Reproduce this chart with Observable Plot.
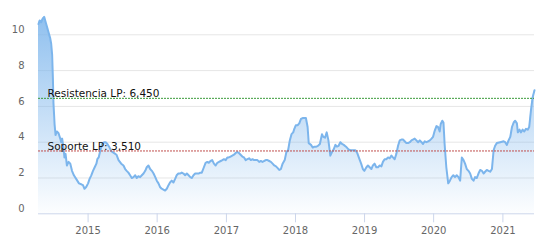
<!DOCTYPE html>
<html><head><meta charset="utf-8">
<script src="https://cdn.jsdelivr.net/npm/d3@7"></script>
<script src="https://cdn.jsdelivr.net/npm/@observablehq/plot@0.6"></script>
<style>body{margin:0;background:#fff;}</style>
</head><body><div id="chart"></div>
<script>
const fechas = [
"2014-04-14","2014-04-20","2014-04-28","2014-05-06","2014-05-14","2014-05-22","2014-05-30","2014-06-07","2014-06-15","2014-06-20","2014-06-25","2014-06-29","2014-07-02","2014-07-08","2014-07-13","2014-07-20","2014-07-29","2014-08-07","2014-08-12","2014-08-17","2014-08-24","2014-08-29","2014-09-04","2014-09-11","2014-09-20","2014-09-29","2014-10-08","2014-10-18","2014-10-30","2014-11-14","2014-11-26","2014-12-05","2014-12-13","2014-12-22",
"2015-01-01","2015-01-09","2015-01-18","2015-01-27","2015-02-05","2015-02-14","2015-02-19","2015-02-26","2015-03-07","2015-03-16","2015-03-27","2015-04-04","2015-04-13","2015-04-22","2015-05-04","2015-05-17","2015-05-31","2015-06-11","2015-06-25","2015-07-07","2015-07-16","2015-07-24","2015-08-02","2015-08-11","2015-08-20","2015-08-29","2015-09-07","2015-09-15","2015-09-24","2015-10-03","2015-10-12","2015-10-21","2015-10-30","2015-11-07","2015-11-16","2015-11-25","2015-12-04","2015-12-13","2015-12-22","2015-12-30",
"2016-01-08","2016-01-16","2016-01-25","2016-02-03","2016-02-12","2016-02-21","2016-03-01","2016-03-09","2016-03-18","2016-03-27","2016-04-05","2016-04-13","2016-04-22","2016-05-01","2016-05-10","2016-05-19","2016-05-28","2016-06-06","2016-06-15","2016-06-24","2016-07-02","2016-07-11","2016-07-20","2016-07-29","2016-08-07","2016-08-16","2016-08-24","2016-09-04","2016-09-13","2016-09-22","2016-09-30","2016-10-09","2016-10-18","2016-10-27","2016-11-05","2016-11-14","2016-11-23","2016-12-02","2016-12-11","2016-12-19","2016-12-28",
"2017-01-06","2017-01-14","2017-01-23","2017-02-01","2017-02-10","2017-02-19","2017-02-28","2017-03-08","2017-03-17","2017-03-26","2017-04-04","2017-04-13","2017-04-22","2017-05-01","2017-05-10","2017-05-19","2017-05-27","2017-06-05","2017-06-14","2017-06-23","2017-07-02","2017-07-11","2017-07-19","2017-07-28","2017-08-06","2017-08-15","2017-08-24","2017-09-02","2017-09-11","2017-09-20","2017-09-29","2017-10-07","2017-10-16","2017-10-25","2017-11-05","2017-11-14","2017-11-23","2017-12-02","2017-12-11","2017-12-20","2017-12-26",
"2018-01-03","2018-01-12","2018-01-21","2018-01-30","2018-02-08","2018-02-17","2018-02-25","2018-03-06","2018-03-12","2018-03-24","2018-04-02","2018-04-11","2018-04-19","2018-04-28","2018-05-10","2018-05-21","2018-05-28","2018-06-06","2018-06-15","2018-06-24","2018-07-04","2018-07-13","2018-07-22","2018-07-31","2018-08-08","2018-08-17","2018-08-26","2018-09-04","2018-09-13","2018-09-25","2018-10-08","2018-10-18","2018-10-27","2018-11-05","2018-11-14","2018-11-23","2018-12-05","2018-12-14","2018-12-23","2018-12-31",
"2019-01-11","2019-01-19","2019-01-28","2019-02-06","2019-02-14","2019-02-23","2019-03-04","2019-03-13","2019-03-22","2019-03-31","2019-04-08","2019-04-17","2019-04-26","2019-05-05","2019-05-14","2019-05-23","2019-05-31","2019-06-09","2019-06-18","2019-06-27","2019-07-06","2019-07-15","2019-07-23","2019-08-01","2019-08-10","2019-08-19","2019-08-28","2019-09-06","2019-09-14","2019-09-23","2019-10-02","2019-10-11","2019-10-20","2019-10-29","2019-11-06","2019-11-15","2019-11-24","2019-12-03","2019-12-12","2019-12-21","2019-12-29",
"2020-01-07","2020-01-16","2020-01-24","2020-02-02","2020-02-07","2020-02-16","2020-02-22","2020-02-28","2020-03-08","2020-03-18","2020-03-27","2020-04-05","2020-04-14","2020-04-23","2020-05-02","2020-05-11","2020-05-20","2020-05-29","2020-06-07","2020-06-15","2020-06-24","2020-07-03","2020-07-12","2020-07-21","2020-07-30","2020-08-07","2020-08-16","2020-08-25","2020-09-03","2020-09-12","2020-09-21","2020-09-29","2020-10-08","2020-10-17","2020-10-26","2020-11-04","2020-11-13","2020-11-21","2020-11-30","2020-12-18",
"2021-01-05","2021-01-13","2021-01-22","2021-01-31","2021-02-09","2021-02-18","2021-02-27","2021-03-07","2021-03-16","2021-03-21","2021-03-30","2021-04-06","2021-04-15","2021-04-24","2021-05-03","2021-05-12","2021-05-20","2021-05-29","2021-06-07","2021-06-17"
];
const valores = [
10.6,10.8,10.7,10.9,11.0,10.7,10.4,10.1,9.8,9.5,8.9,7.6,6.2,5.0,4.4,4.6,4.5,4.2,4.0,4.2,3.7,3.15,3.35,2.7,2.9,2.8,2.4,2.15,1.95,1.7,1.65,1.6,1.4,1.5,
1.7,1.95,2.15,2.4,2.6,2.8,3.05,3.15,3.55,3.9,4.0,4.0,3.9,3.75,3.5,3.4,3.3,3.0,2.8,2.7,2.5,2.4,2.3,2.15,2.0,2.05,2.15,2.0,2.1,2.05,2.15,2.25,2.4,2.6,2.7,2.5,2.4,2.25,2.05,1.85,
1.7,1.5,1.4,1.35,1.3,1.4,1.6,1.75,1.85,1.75,1.95,2.15,2.25,2.25,2.3,2.25,2.15,2.25,2.15,2.05,2.0,2.15,2.25,2.25,2.25,2.3,2.3,2.6,2.85,2.9,2.85,2.95,3.0,2.8,2.7,2.85,2.9,2.95,3.0,3.05,3.0,
3.15,3.15,3.2,3.25,3.3,3.4,3.45,3.4,3.3,3.2,3.15,3.0,3.05,3.1,3.0,3.05,3.0,3.0,3.0,2.9,2.95,2.9,2.95,3.0,3.0,2.95,2.9,2.8,2.7,2.65,2.55,2.45,2.5,2.8,3.0,3.45,3.55,4.1,4.45,4.55,4.75,
4.95,4.95,5.05,5.3,5.35,5.35,5.35,4.85,3.95,3.85,3.7,3.75,3.75,3.78,3.9,4.45,4.3,4.25,4.55,4.1,3.25,3.45,3.6,3.85,3.75,3.8,4.0,3.9,3.85,3.75,3.6,3.55,3.55,3.55,3.55,3.4,3.05,2.8,2.5,2.4,
2.6,2.7,2.6,2.5,2.7,2.8,2.6,2.6,2.7,2.65,2.9,3.05,3.05,3.15,3.1,3.25,3.15,3.05,3.35,3.8,4.1,4.15,4.15,4.05,3.95,3.95,4.0,4.1,4.15,4.2,4.1,4.0,4.1,4.0,3.9,4.05,4.0,4.05,4.1,4.2,4.3,
4.65,4.9,4.85,4.6,5.0,5.2,5.1,3.9,2.6,1.7,1.85,2.05,2.15,2.05,2.15,2.05,1.85,3.15,3.0,2.8,2.5,2.4,2.25,1.95,1.85,2.05,2.0,2.25,2.45,2.4,2.25,2.35,2.45,2.4,2.35,2.5,3.55,3.8,3.95,4.0,
4.05,4.0,3.85,4.1,4.3,4.85,5.1,5.2,5.05,4.55,4.7,4.55,4.7,4.6,4.75,4.7,4.85,5.75,6.5,6.9
];
const yTicks = [0, 2, 4, 6, 8, 10];
const xTickYears = ["2015","2016","2017","2018","2019","2020","2021"];
const nivelNombres = ["Resistencia LP: 6,450", "Soporte LP: 3,510"];
const nivelValores = [6.45, 3.51];
const nivelColores = ["#3a9a3a", "#c0504d"];

const data = fechas.map((f, i) => ({fecha: new Date(f), valor: valores[i]}));
const niveles = nivelNombres.map((n, i) => ({nombre: n, valor: nivelValores[i], color: nivelColores[i]}));

function gradDefs() {
  const ns = "http://www.w3.org/2000/svg";
  const defs = document.createElementNS(ns, "defs");
  const g = document.createElementNS(ns, "linearGradient");
  g.setAttribute("id", "areaGrad");
  g.setAttribute("x1", "0"); g.setAttribute("y1", "0");
  g.setAttribute("x2", "0"); g.setAttribute("y2", "1");
  [[0, 0.85], [1, 0.02]].forEach(([o, a]) => {
    const s = document.createElementNS(ns, "stop");
    s.setAttribute("offset", o);
    s.setAttribute("stop-color", "#7cb5ec");
    s.setAttribute("stop-opacity", a);
    g.appendChild(s);
  });
  defs.appendChild(g);
  return defs;
}

const chart = Plot.plot({
  width: 546,
  height: 245,
  marginLeft: 38,
  marginRight: 12,
  marginTop: 14.6,
  marginBottom: 31.7,
  style: {fontFamily: "DejaVu Sans, sans-serif", fontSize: "10px", background: "#fff"},
  x: {type: "utc", domain: [data[0].fecha, data[data.length - 1].fecha]},
  y: {domain: [0, 11.1]},
  marks: [
    gradDefs,
    Plot.ruleY(yTicks.filter(d => d > 0), {stroke: "#e6e6e6", strokeWidth: 1}),
    Plot.areaY(data, {x: "fecha", y: "valor", fill: "url(#areaGrad)"}),
    Plot.lineY(data, {x: "fecha", y: "valor", stroke: "#7cb5ec", strokeWidth: 2}),
    Plot.ruleY(niveles, {y: "valor", stroke: "color", strokeWidth: 1, strokeDasharray: "2,1"}),
    Plot.text(niveles, {y: "valor", text: "nombre", frameAnchor: "left", textAnchor: "start", lineAnchor: "bottom", dx: 9, dy: -1, fill: "#111", fontSize: 10.5}),
    Plot.ruleY([0], {stroke: "#ccd6eb", strokeWidth: 1}),
    Plot.axisX({ticks: xTickYears.map(y => new Date(y + "-01-01")), tickSize: 9, tickPadding: 4, tickFormat: d3.utcFormat("%Y"), stroke: "#ccd6eb", fill: "#666", label: null, fontSize: 10}),
    Plot.axisY({ticks: yTicks, tickSize: 0, tickPadding: 14, dy: -5, fill: "#666", label: null, fontSize: 10})
  ]
});
document.getElementById("chart").appendChild(chart);
</script>
</body></html>
